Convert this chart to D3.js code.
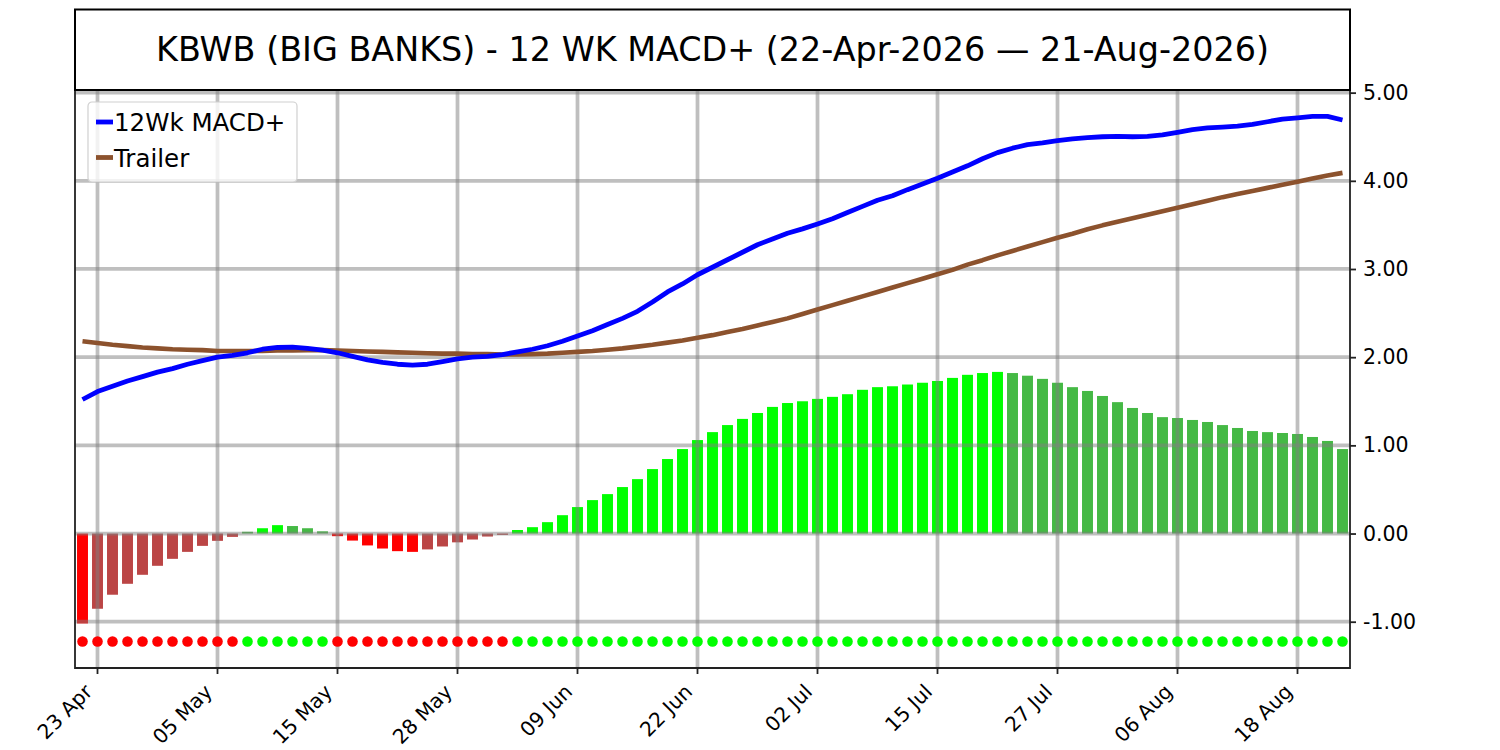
<!DOCTYPE html>
<html lang="en">
<head>
<meta charset="UTF-8">
<title>KBWB 12 WK MACD+</title>
<script src="https://cdn.jsdelivr.net/npm/d3@7"></script>
<style>
    body {
        margin: 0;
        background: #fff;
        font-family: "DejaVu Sans", sans-serif;
    }
</style>
</head>
<body>
<div id="chart"></div>
<script>
// trading sessions shown (22 Apr - 21 Aug 2026)
const dates = [
    "2026-04-22", "2026-04-23", "2026-04-24", "2026-04-27", "2026-04-28", "2026-04-29", "2026-04-30",
    "2026-05-01", "2026-05-04", "2026-05-05", "2026-05-06", "2026-05-07", "2026-05-08", "2026-05-11",
    "2026-05-12", "2026-05-13", "2026-05-14", "2026-05-15", "2026-05-18", "2026-05-19", "2026-05-20",
    "2026-05-21", "2026-05-22", "2026-05-26", "2026-05-27", "2026-05-28", "2026-05-29",
    "2026-06-01", "2026-06-02", "2026-06-03", "2026-06-04", "2026-06-05", "2026-06-08", "2026-06-09",
    "2026-06-10", "2026-06-11", "2026-06-12", "2026-06-15", "2026-06-16", "2026-06-17", "2026-06-18",
    "2026-06-22", "2026-06-23", "2026-06-24", "2026-06-25", "2026-06-26", "2026-06-29", "2026-06-30",
    "2026-07-01", "2026-07-02", "2026-07-06", "2026-07-07", "2026-07-08", "2026-07-09", "2026-07-10",
    "2026-07-13", "2026-07-14", "2026-07-15", "2026-07-16", "2026-07-17", "2026-07-20", "2026-07-21",
    "2026-07-22", "2026-07-23", "2026-07-24", "2026-07-27", "2026-07-28", "2026-07-29", "2026-07-30",
    "2026-07-31", "2026-08-03", "2026-08-04", "2026-08-05", "2026-08-06", "2026-08-07", "2026-08-10",
    "2026-08-11", "2026-08-12", "2026-08-13", "2026-08-14", "2026-08-17", "2026-08-18", "2026-08-19",
    "2026-08-20", "2026-08-21"
];

// histogram
const hist = [
    -1.02, -0.853, -0.694, -0.57, -0.468, -0.366, -0.287, -0.208, -0.14, -0.083,
    -0.038, 0.02, 0.06, 0.095, 0.085, 0.06, 0.025, -0.03, -0.08, -0.135,
    -0.17, -0.2, -0.208, -0.18, -0.147, -0.1, -0.068, -0.034, -0.015, 0.04,
    0.072, 0.129, 0.208, 0.3, 0.379, 0.447, 0.527, 0.617, 0.731, 0.845,
    0.958, 1.06, 1.15, 1.23, 1.3, 1.367, 1.436, 1.48, 1.5, 1.527,
    1.55, 1.58, 1.63, 1.66, 1.67, 1.69, 1.71, 1.73, 1.765, 1.8,
    1.82, 1.833, 1.82, 1.79, 1.754, 1.71, 1.66, 1.617, 1.56, 1.49,
    1.424, 1.367, 1.32, 1.31, 1.288, 1.265, 1.23, 1.197, 1.163, 1.15,
    1.14, 1.129, 1.095, 1.05, 0.958
];

// 12Wk MACD+ line
const macd = [
    1.52, 1.61, 1.67, 1.73, 1.78, 1.83, 1.87, 1.92, 1.96, 2.0,
    2.02, 2.05, 2.09, 2.11, 2.115, 2.1, 2.08, 2.05, 2.01, 1.97,
    1.94, 1.92, 1.91, 1.92, 1.95, 1.98, 2.0, 2.01, 2.03, 2.06,
    2.09, 2.13, 2.18, 2.24, 2.3, 2.37, 2.44, 2.52, 2.625, 2.74,
    2.83, 2.935, 3.02, 3.105, 3.19, 3.275, 3.34, 3.405, 3.455, 3.51,
    3.57, 3.64, 3.71, 3.78, 3.83, 3.9, 3.965, 4.03, 4.1, 4.17,
    4.25, 4.32, 4.37, 4.41, 4.43, 4.455, 4.475, 4.49, 4.5, 4.505,
    4.5, 4.505, 4.52, 4.55, 4.58, 4.6, 4.61, 4.62, 4.64, 4.67,
    4.7, 4.715, 4.73, 4.73, 4.69
];

// Trailer line
const trailer = [
    2.18, 2.16, 2.14, 2.125, 2.11, 2.1, 2.09, 2.085, 2.08, 2.07,
    2.07, 2.07, 2.07, 2.075, 2.075, 2.08, 2.08, 2.075, 2.07, 2.065,
    2.06, 2.055, 2.05, 2.045, 2.04, 2.04, 2.035, 2.035, 2.03, 2.03,
    2.035, 2.04, 2.05, 2.06, 2.07, 2.085, 2.1, 2.12, 2.14, 2.165,
    2.19, 2.22, 2.25, 2.285, 2.32, 2.36, 2.4, 2.44, 2.49, 2.54,
    2.59, 2.64, 2.69, 2.74, 2.79, 2.84, 2.89, 2.94, 2.99, 3.05,
    3.1, 3.155, 3.205, 3.255, 3.305, 3.355, 3.4, 3.45, 3.495, 3.535,
    3.575, 3.615, 3.655, 3.695, 3.735, 3.775, 3.815, 3.85, 3.885, 3.92,
    3.955, 3.99, 4.025, 4.06, 4.09
];

const signalLevel = -1.225;  // row of signal dots

const tickDates = ["2026-04-23", "2026-05-05", "2026-05-15", "2026-05-28", "2026-06-09", "2026-06-22",
                   "2026-07-02", "2026-07-15", "2026-07-27", "2026-08-06", "2026-08-18"];
const tickLabels = ["23 Apr", "05 May", "15 May", "28 May", "09 Jun", "22 Jun",
                    "02 Jul", "15 Jul", "27 Jul", "06 Aug", "18 Aug"];
const yTicks = [-1, 0, 1, 2, 3, 4, 5];

const title = "KBWB (BIG BANKS) - 12 WK MACD+ (22-Apr-2026 \u2014 21-Aug-2026)";

// layout
const W = 1500, H = 750;
const plot = { left: 75, right: 1350, top: 90, bottom: 668 };

const svg = d3.select("#chart").append("svg")
    .attr("width", W)
    .attr("height", H)
    .style("font-family", "'DejaVu Sans', sans-serif");

const x = d3.scaleBand()
    .domain(dates)
    .range([plot.left, plot.right])
    .paddingInner(0.27)
    .paddingOuter(0.135);

const y = d3.scaleLinear()
    .domain([-1.525, 5.03])
    .range([plot.bottom, plot.top]);

const cx = d => x(d) + x.bandwidth() / 2;

// bar colours: strong when magnitude grows, faded when it shrinks
function barColor(v, i) {
    const growing = i === 0 || Math.abs(v) > Math.abs(hist[i - 1]);
    if (v >= 0) return growing ? "#00ff00" : "#45b945";
    return growing ? "#ff0000" : "#bb4545";
}

svg.append("g")
    .selectAll("rect")
    .data(hist)
    .enter()
    .append("rect")
    .attr("x", (d, i) => x(dates[i]))
    .attr("width", x.bandwidth())
    .attr("y", d => y(Math.max(0, d)))
    .attr("height", d => Math.abs(y(d) - y(0)))
    .attr("fill", barColor);

// grid
const grid = svg.append("g")
    .attr("stroke", "#808080")
    .attr("stroke-opacity", 0.5)
    .attr("stroke-width", 3.75);

grid.selectAll("line.h")
    .data(yTicks)
    .enter()
    .append("line")
    .attr("class", "h")
    .attr("x1", plot.left).attr("x2", plot.right)
    .attr("y1", d => y(d)).attr("y2", d => y(d));

grid.selectAll("line.v")
    .data(tickDates)
    .enter()
    .append("line")
    .attr("class", "v")
    .attr("x1", cx).attr("x2", cx)
    .attr("y1", plot.top).attr("y2", plot.bottom);

// lines
const line = d3.line()
    .x((d, i) => cx(dates[i]))
    .y(d => y(d));

svg.append("path")
    .datum(trailer)
    .attr("fill", "none")
    .attr("stroke", "#8c522d")
    .attr("stroke-width", 4.6)
    .attr("stroke-linejoin", "round")
    .attr("d", line);

svg.append("path")
    .datum(macd)
    .attr("fill", "none")
    .attr("stroke", "#0000ff")
    .attr("stroke-width", 4.8)
    .attr("stroke-linejoin", "round")
    .attr("d", line);

// signal dots
svg.append("g")
    .selectAll("circle")
    .data(hist)
    .enter()
    .append("circle")
    .attr("cx", (d, i) => cx(dates[i]))
    .attr("cy", y(signalLevel))
    .attr("r", 5.3)
    .attr("fill", d => d >= 0 ? "#00ff00" : "#ff0000");

// spines
svg.append("path")
    .attr("d", `M${plot.left},${plot.top}V${plot.bottom}H${plot.right}V${plot.top}`)
    .attr("stroke", "#222")
    .attr("stroke-width", 1.8)
    .attr("fill", "none");

// right y axis
const yAxis = svg.append("g")
    .attr("transform", `translate(${plot.right},0)`)
    .call(d3.axisRight(y)
        .tickValues(yTicks)
        .tickSize(6)
        .tickPadding(7)
        .tickFormat(d => d3.format(".2f")(d).replace("\u2212", "-")));
yAxis.select(".domain").remove();
yAxis.selectAll(".tick line").attr("stroke", "#222").attr("stroke-width", 1.8);
yAxis.selectAll(".tick text")
    .attr("font-size", 20.5)
    .attr("font-family", "'DejaVu Sans', sans-serif")
    .attr("fill", "#000");

// bottom x axis
const xAxis = svg.append("g")
    .attr("transform", `translate(0,${plot.bottom})`)
    .call(d3.axisBottom(x)
        .tickValues(tickDates)
        .tickSize(6)
        .tickFormat((d, i) => tickLabels[i]));
xAxis.select(".domain").remove();
xAxis.selectAll(".tick line").attr("stroke", "#222").attr("stroke-width", 1.8);
xAxis.selectAll(".tick text")
    .attr("font-size", 20.2)
    .attr("font-family", "'DejaVu Sans', sans-serif")
    .attr("fill", "#000")
    .attr("text-anchor", "end")
    .attr("dy", null)
    .attr("y", 0)
    .attr("transform", "translate(-4,25) rotate(-45)");

// title box
svg.append("rect")
    .attr("x", plot.left)
    .attr("y", 9.5)
    .attr("width", plot.right - plot.left)
    .attr("height", plot.top - 9.5)
    .attr("fill", "none")
    .attr("stroke", "#000")
    .attr("stroke-width", 2);

svg.append("text")
    .attr("x", (plot.left + plot.right) / 2)
    .attr("y", 61)
    .attr("text-anchor", "middle")
    .attr("font-size", 33.4)
    .attr("fill", "#000")
    .text(title);

// legend
const legend = svg.append("g").attr("transform", "translate(88,102)");
legend.append("rect")
    .attr("width", 209)
    .attr("height", 80)
    .attr("rx", 4)
    .attr("fill", "#fff")
    .attr("fill-opacity", 0.8)
    .attr("stroke", "#d0d0d0")
    .attr("stroke-width", 1.2);

const legendItems = [
    { name: "12Wk MACD+", color: "#0000ff" },
    { name: "Trailer", color: "#8c522d" }
];
legendItems.forEach((item, i) => {
    const ly = 20 + i * 35.5;
    legend.append("line")
        .attr("x1", 8).attr("x2", 25)
        .attr("y1", ly).attr("y2", ly)
        .attr("stroke", item.color)
        .attr("stroke-width", 4.8);
    legend.append("text")
        .attr("x", 26)
        .attr("y", ly + 9)
        .attr("font-size", 24.5)
        .attr("fill", "#000")
        .text(item.name);
});
</script>
</body>
</html>
